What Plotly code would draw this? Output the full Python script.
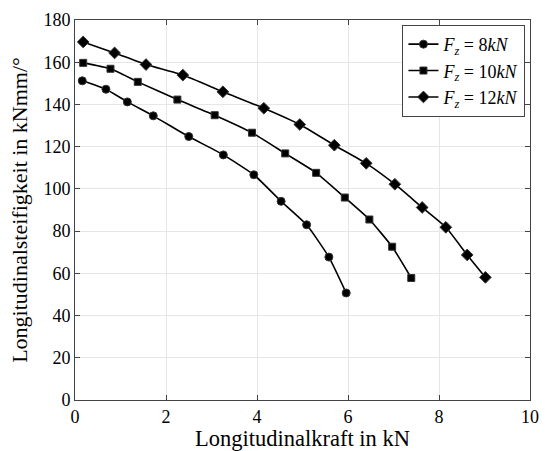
import plotly.graph_objects as go

# Longitudinal stiffness vs. longitudinal force for three wheel loads
x_8kn = [0.16, 0.68, 1.15, 1.72, 2.50, 3.26, 3.93, 4.53, 5.09, 5.58, 5.96]
y_8kn = [151.2, 147.2, 141.2, 134.6, 124.8, 116.1, 106.7, 94.1, 83.0, 67.7, 50.7]

x_10kn = [0.18, 0.78, 1.38, 2.25, 3.07, 3.89, 4.62, 5.30, 5.93, 6.47, 6.97, 7.39]
y_10kn = [159.7, 156.9, 150.7, 142.3, 134.9, 126.6, 116.8, 107.6, 95.9, 85.5, 72.6, 57.8]

x_12kn = [0.18, 0.87, 1.56, 2.37, 3.25, 4.15, 4.94, 5.70, 6.40, 7.03, 7.63, 8.15, 8.62, 9.02]
y_12kn = [169.6, 164.4, 158.9, 153.9, 146.0, 138.2, 130.5, 120.7, 112.1, 102.2, 91.2, 81.8, 68.7, 58.1]

series_names = [
    "<i>F</i><sub><i>z</i></sub> = 8<i>kN</i>",
    "<i>F</i><sub><i>z</i></sub> = 10<i>kN</i>",
    "<i>F</i><sub><i>z</i></sub> = 12<i>kN</i>",
]

FONT = "Liberation Serif"

fig = go.Figure()
for xs, ys, name, sym, size in [
    (x_8kn, y_8kn, series_names[0], "circle", 8),
    (x_10kn, y_10kn, series_names[1], "square", 7),
    (x_12kn, y_12kn, series_names[2], "diamond", 9),
]:
    fig.add_trace(go.Scatter(
        x=xs, y=ys, name=name, mode="lines+markers",
        line=dict(color="black", width=1.6, shape="spline", smoothing=0.5),
        marker=dict(symbol=sym, size=size, color="black",
                    line=dict(color="#333333", width=1)),
    ))

axis_common = dict(
    automargin=False,
    showgrid=True, gridcolor="#e6e6e6", gridwidth=1,
    zeroline=False, showline=True, linecolor="#444444", linewidth=1,
    mirror="ticks", ticks="inside", ticklen=5, tickcolor="#444444",
    tickfont=dict(family=FONT, size=18, color="black"),
)

fig.update_xaxes(range=[0, 10], dtick=2,
                 title=dict(text="Longitudinalkraft in kN", standoff=2,
                            font=dict(family=FONT, size=22.5, color="black")),
                 **axis_common)
fig.update_yaxes(range=[0, 180], dtick=20,
                 title=dict(text="Longitudinalsteifigkeit in kNmm/°", standoff=9,
                            font=dict(family=FONT, size=22, color="black")),
                 **axis_common)

fig.update_layout(
    width=545, height=451,
    margin=dict(l=75, r=15, t=20, b=51),
    paper_bgcolor="white", plot_bgcolor="white",
    font=dict(family=FONT, color="black"),
    legend=dict(
        x=0.99, y=0.987, xanchor="right", yanchor="top",
        bgcolor="white", bordercolor="#444444", borderwidth=1,
        font=dict(family=FONT, size=18, color="black"),
        tracegroupgap=0, itemwidth=30,
    ),
)

fig.write_html("out.html")
